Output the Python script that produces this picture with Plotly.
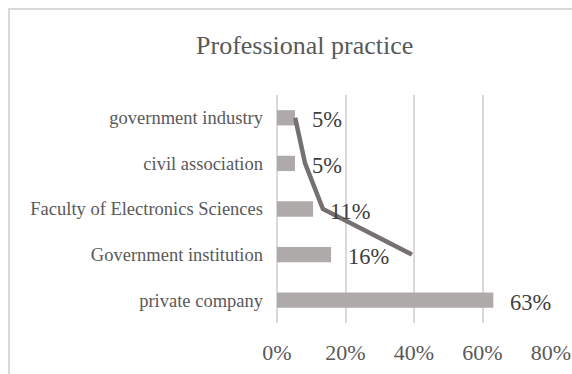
import plotly.graph_objects as go

# Data
categories = [
    "government industry",
    "civil association",
    "Faculty of Electronics Sciences",
    "Government institution",
    "private company",
]
shares = [0.0526, 0.0526, 0.1053, 0.1579, 0.6316]

line_categories = categories[:4]
line_values = [0.053, 0.082, 0.134, 0.394]

tick_vals = [0, 0.2, 0.4, 0.6, 0.8]

SERIF = "Liberation Serif, Times New Roman, serif"
W, H = 572, 374
M_L, M_R, M_T, M_B = 277, 21, 95, 51
PW, PH = W - M_L - M_R, H - M_T - M_B

fig = go.Figure()

fig.add_trace(go.Bar(
    y=categories,
    x=shares,
    orientation="h",
    width=0.335,
    marker=dict(color="#aeaaaa", line=dict(width=0)),
    hoverinfo="x+y",
    showlegend=False,
))

fig.add_trace(go.Scatter(
    y=line_categories,
    x=line_values,
    mode="lines",
    line=dict(color="#767171", width=4.5),
    hoverinfo="skip",
    showlegend=False,
))

# value labels next to each bar
for cat, v in zip(categories, shares):
    fig.add_annotation(
        x=v, y=cat, xref="x", yref="y",
        text=f"{v:.0%}",
        showarrow=False,
        xanchor="left", yanchor="middle",
        xshift=15, yshift=-2,
        font=dict(family=SERIF, size=22.5, color="#404040"),
    )

# chart-area frame
fig.add_shape(
    type="rect", xref="paper", yref="paper",
    x0=(9 - M_L) / PW, x1=1.6,
    y0=-0.6, y1=(H - M_B - 9) / PH,
    line=dict(color="#d9d9d9", width=2),
    fillcolor="rgba(0,0,0,0)",
    layer="below",
)

fig.update_layout(
    width=W, height=H,
    margin=dict(l=M_L, r=M_R, t=M_T, b=M_B, pad=0, autoexpand=False),
    paper_bgcolor="white",
    plot_bgcolor="white",
    title=dict(
        text="Professional practice",
        x=304.7 / W, xref="container", xanchor="center",
        y=1 - 45 / H, yref="container", yanchor="middle",
        font=dict(family=SERIF, size=26, color="#595959"),
    ),
    xaxis=dict(
        range=[0, 0.8],
        tickvals=tick_vals,
        tickformat=".0%",
        showgrid=True, gridcolor="#d9d9d9", gridwidth=1.5,
        zeroline=True, zerolinecolor="#d9d9d9", zerolinewidth=1.5,
        showline=False,
        ticks="",
        ticklabelstandoff=14,
        tickfont=dict(family=SERIF, size=22, color="#595959"),
        automargin=False,
        fixedrange=True,
    ),
    yaxis=dict(
        type="category",
        categoryorder="array",
        categoryarray=categories,
        autorange="reversed",
        showgrid=False, zeroline=False, showline=False,
        ticks="",
        ticklabelstandoff=13,
        tickfont=dict(family=SERIF, size=18.5, color="#595959"),
        automargin=False,
        fixedrange=True,
    ),
    bargap=0.665,
)

fig.write_html("out.html")
